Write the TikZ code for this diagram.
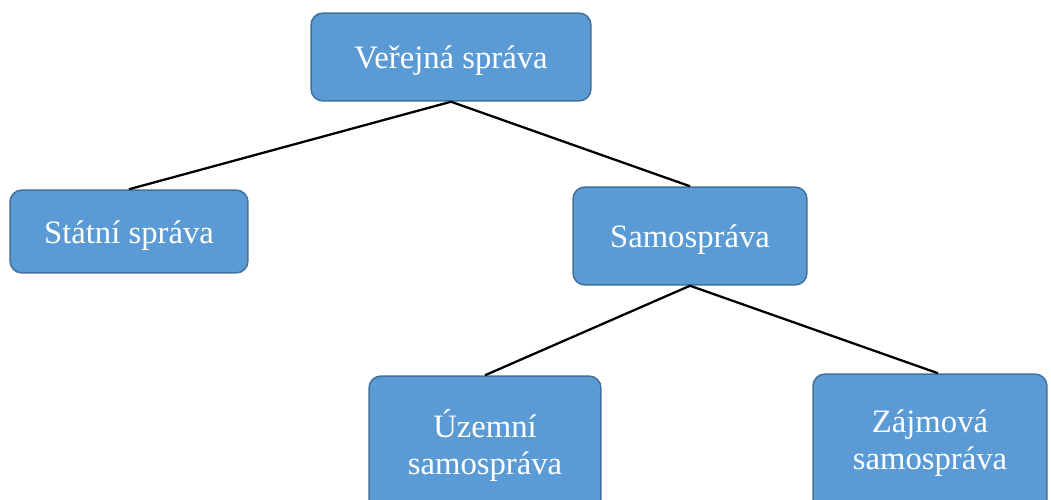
\documentclass[tikz,border=0pt]{standalone}
\usepackage{fontspec}
\setmainfont{Liberation Serif}
\usepackage{xcolor}
\definecolor{boxfill}{HTML}{5B9BD5}
\definecolor{boxline}{HTML}{41719C}

\begin{document}
\begin{tikzpicture}[x=0.02cm, y=-0.02cm,
  box/.style = {shape=rectangle, rounded corners=0.24cm,
    draw=boxline, line width=0.85pt, fill=boxfill, text=white,
    align=center, inner sep=0pt,
    font=\fontsize{18.6}{21}\selectfont},
  oneline/.style = {box, text height=17.6pt, text depth=4pt},
  link/.style = {line width=1.3pt, black}]
    \useasboundingbox (0,0) rectangle (1051,500);
    \clip (0,0) rectangle (1051,500);
    \node[oneline, minimum width=5.6cm, minimum height=1.76cm] (verejna) at (451,57) {Veřejná správa};
    \node[oneline, minimum width=4.76cm, minimum height=1.66cm] (statni) at (129,231.5) {Státní správa};
    \node[oneline, minimum width=4.68cm, minimum height=1.96cm] (samo) at (690,236) {Samospráva};
    \node[box, minimum width=4.64cm, minimum height=2.76cm] (uzemni) at (485,445) {Územní\\samospráva};
    \node[box, minimum width=4.68cm, minimum height=2.76cm] (zajmova) at (930,443) {Zájmová\\samospráva};
    \draw [link] (verejna.south) -- (statni.north);
    \draw [link] (verejna.south) -- (samo.north);
    \draw [link] (samo.south) -- (uzemni.north);
    \draw [link] (samo.south) -- ([xshift=0.16cm]zajmova.north);
\end{tikzpicture}
\end{document}
